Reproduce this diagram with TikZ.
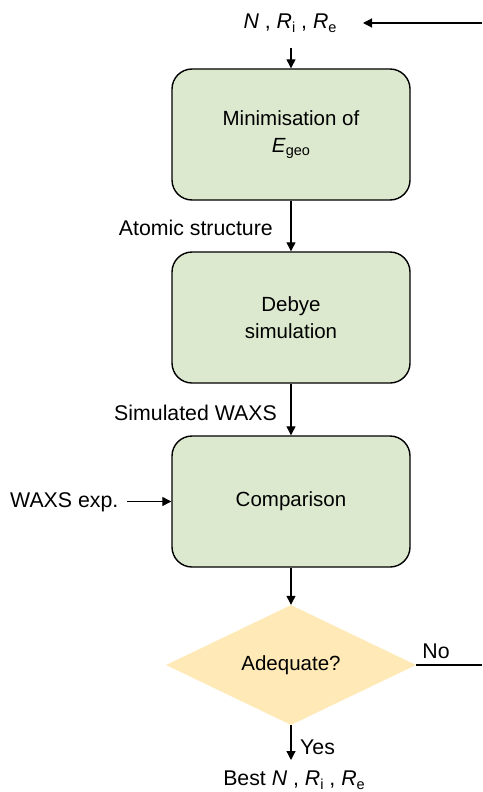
\documentclass[tikz,border=0pt]{standalone}
\usepackage{fontspec}
\setmainfont{Liberation Sans}
\usetikzlibrary{arrows.meta,shapes.geometric}
\definecolor{boxgreen}{RGB}{221,233,207}
\definecolor{diamyellow}{RGB}{255,234,183}
\newcommand{\lowsub}[1]{\raisebox{-0.35ex}{\fontsize{14.5}{14.5}\selectfont #1}}
\begin{document}
\begin{tikzpicture}[x=1pt,y=-1pt,
  every node/.style={font=\fontsize{20.5}{27}\selectfont, inner sep=0pt},
  lab/.style={font=\fontsize{21.3}{27}\selectfont},
  procbox/.style={draw=black, line width=1.4pt, fill=boxgreen, rounded corners=20pt,
    minimum width=238pt, minimum height=131pt, align=center},
  decbox/.style={diamond, draw=none, fill=diamyellow, minimum width=250pt, minimum height=120pt, align=center},
  conn/.style={line width=1.2pt, -{Triangle[length=9pt,width=9pt]}},
  plain/.style={line width=1.2pt}]
\useasboundingbox (0,0) rectangle (482,792);
\node[procbox] (b1) at (291,134.5) {Minimisation of\\\textit{E}\lowsub{geo}};
\node[procbox] (b2) at (291,317.5) {Debye\\simulation};
\node[procbox] (b3) at (291,501.5) {Comparison};
\node[decbox] (d) at (291,665) {Adequate?};
\node[lab] (top) at (290,23) {\textit{N} , \textit{R}\lowsub{i} , \textit{R}\lowsub{e}};
\coordinate (rin) at (482,23);
\coordinate (rinend) at (363,23);
\coordinate (topbot) at (291,48);
\draw[conn] (rin) -- (rinend);
\draw[conn] (topbot) -- (b1.north);
\draw[conn] (b1) -- (b2);
\node[lab, anchor=east] (l1) at (273,228) {Atomic structure};
\draw[conn] (b2) -- (b3);
\node[lab, anchor=east] (l2) at (277,413) {Simulated WAXS};
\node[lab, anchor=west] (wx) at (10,502) {WAXS exp.};
\coordinate (wxend) at (127,501.5);
\draw[conn] (wxend) -- (b3.west);
\draw[conn] (b3) -- (d.north);
\coordinate (noend) at (482,665);
\draw[plain] (d.east) -- (noend);
\node[lab] (no) at (436,651) {No};
\coordinate (best) at (291,760);
\draw[conn] (d.south) -- (best);
\node[lab, anchor=west] (yes) at (300,747) {Yes};
\node[lab] (bestlab) at (294,780) {Best \textit{N} , \textit{R}\lowsub{i} , \textit{R}\lowsub{e}};
\end{tikzpicture}
\end{document}
